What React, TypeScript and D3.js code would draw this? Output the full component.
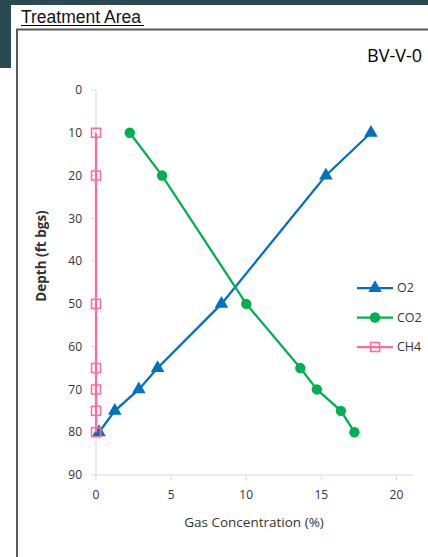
import React from "react";
import * as d3 from "d3";

const depths = [10, 20, 50, 65, 70, 75, 80];
const o2Values = [18.3, 15.3, 8.35, 4.1, 2.85, 1.25, 0.2];
const co2Values = [2.25, 4.4, 10.0, 13.6, 14.7, 16.3, 17.2];
const ch4Values = [0, 0, 0, 0, 0, 0, 0];
const xTicks = [0, 5, 10, 15, 20];
const yTicks = [0, 10, 20, 30, 40, 50, 60, 70, 80, 90];
const seriesNames = ["O2", "CO2", "CH4"];
const seriesColors = ["#0070C0", "#00B050", "#FF6B9A"];
const chartTitle = "BV-V-0";
const header = "Treatment Area";
const xTitle = "Gas Concentration (%)";
const yTitle = "Depth (ft bgs)";

const W = 428;
const H = 557;
const FONT = "'Open Sans', 'Noto Sans', sans-serif";

function Marker({ kind, x, y, color }: { kind: number; x: number; y: number; color: string }) {
  if (kind === 0) {
    const s = d3.symbol().type(d3.symbolTriangle).size(80)();
    return <path d={s || ""} transform={`translate(${x},${y})`} fill={color} />;
  }
  if (kind === 1) {
    return <circle cx={x} cy={y} r={5.2} fill={color} />;
  }
  return <rect x={x - 4.5} y={y - 4.5} width={9} height={9} fill="none" stroke={color} strokeWidth={1.5} />;
}

export default function App() {
  const x = d3.scaleLinear().domain([0, 21.1]).range([96, 413]);
  const y = d3.scaleLinear().domain([0, 90]).range([90, 475]);
  const series = [o2Values, co2Values, ch4Values];
  const line = d3
    .line<[number, number]>()
    .x((d) => x(d[0]))
    .y((d) => y(d[1]));
  const axisColor = "#D9D9D9";
  const textColor = "#333333";

  return (
    <svg
      width={W}
      height={H}
      style={{ position: "absolute", left: 0, top: 0, display: "block" }}
      fontFamily={FONT}
    >
      <rect x={0} y={0} width={W} height={H} fill="#ffffff" />
      <rect x={0} y={0} width={W} height={5} fill="#2A4A53" />
      <rect x={0} y={0} width={11} height={68} fill="#2A4A53" />
      <text
        x={21}
        y={23}
        fontFamily="'Liberation Sans', Arial, sans-serif"
        fontSize={17.5}
        fill="#111"
      >
        {header}
      </text>
      <line x1={21} x2={144} y1={25.5} y2={25.5} stroke="#000" strokeWidth={1} />
      <line x1={16} x2={W} y1={29.5} y2={29.5} stroke="#5a5a5a" strokeWidth={2} />
      <line x1={17} x2={17} y1={29} y2={H} stroke="#5a5a5a" strokeWidth={2} />

      <text x={422} y={62} textAnchor="end" fontSize={18} fill="#000">
        {chartTitle}
      </text>

      <line x1={x(0)} x2={x(0)} y1={y(0)} y2={y(90)} stroke={axisColor} strokeWidth={1} />
      <line x1={x(0)} x2={x(21.1)} y1={y(90)} y2={y(90)} stroke={axisColor} strokeWidth={1} />
      {yTicks.map((t) => (
        <g key={"y" + t}>
          <line x1={x(0) - 5} x2={x(0)} y1={y(t)} y2={y(t)} stroke={axisColor} />
          <text x={x(0) - 14} y={y(t)} dy="0.35em" textAnchor="end" fontSize={12} fill={textColor}>
            {t}
          </text>
        </g>
      ))}
      {xTicks.map((t) => (
        <g key={"x" + t}>
          <line x1={x(t)} x2={x(t)} y1={y(90)} y2={y(90) + 5} stroke={axisColor} />
          <text x={x(t)} y={y(90) + 24} textAnchor="middle" fontSize={12} fill={textColor}>
            {t}
          </text>
        </g>
      ))}
      <text
        transform={`translate(46,256) rotate(-90)`}
        textAnchor="middle"
        fontSize={13.5}
        fontWeight="bold"
        fill={textColor}
      >
        {yTitle}
      </text>
      <text x={254} y={527} textAnchor="middle" fontSize={13.5} fill={textColor}>
        {xTitle}
      </text>

      {series.map((vals, si) => {
        const pts: [number, number][] = vals.map((v, i) => [v, depths[i]]);
        return (
          <g key={seriesNames[si]}>
            <path d={line(pts) || ""} fill="none" stroke={seriesColors[si]} strokeWidth={2.25} />
            {pts.map((p, i) => (
              <Marker key={i} kind={si} x={x(p[0])} y={y(p[1])} color={seriesColors[si]} />
            ))}
          </g>
        );
      })}

      {seriesNames.map((n, i) => {
        const ly = 288 + i * 29.5;
        return (
          <g key={"lg" + n}>
            <line x1={357} x2={393} y1={ly} y2={ly} stroke={seriesColors[i]} strokeWidth={2.25} />
            <Marker kind={i} x={375} y={ly} color={seriesColors[i]} />
            <text x={397} y={ly} dy="0.35em" fontSize={12.5} fill={textColor}>
              {n}
            </text>
          </g>
        );
      })}
    </svg>
  );
}
